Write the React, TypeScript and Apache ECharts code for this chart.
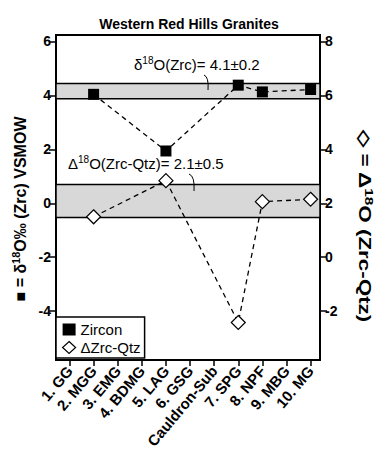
import React, { useEffect, useRef } from "react";
import * as echarts from "echarts";

const categories = ["1. GG", "2. MGG", "3. EMG", "4. BDMG", "5. LAG", "6. GSG", "Cauldron-Sub", "7. SPG", "8. NPF", "9. MBG", "10. MG"];
const zirconIdx = [1, 4, 7, 8, 10];
const zirconValues = [4.04, 1.94, 4.38, 4.13, 4.22];
const deltaIdx = [1, 4, 7, 8, 10];
const deltaValues = [1.5, 2.84, -2.42, 2.06, 2.15];
const leftTicks = [-4, -2, 0, 2, 4, 6];
const rightTicks = [-2, 0, 2, 4, 6, 8];
const xTicks = [0, 1, 2, 3, 4, 5, 6, 7, 8, 9, 10];
const xRange = [-0.56, 10.39];
const zirconBand = [3.88, 4.44];
const deltaBand = [1.47, 2.7];

const FONT = "'Liberation Sans', Arial, Helvetica, sans-serif";

export default function App() {
  const ref = useRef<HTMLDivElement>(null);
  useEffect(() => {
    if (!ref.current) return;
    const chart = echarts.init(ref.current, undefined, { renderer: "svg" });
    const sup = { fontSize: 10, lineHeight: 10, verticalAlign: "top" as const, fontFamily: FONT };
    const supB = { ...sup, fontSize: 11, fontWeight: "bold" as const };
    const option = {
      animation: false,
      backgroundColor: "#fff",
      textStyle: { fontFamily: FONT },
      grid: { left: 56, right: 61, top: 35, bottom: 101, show: true, borderColor: "#000", borderWidth: 2, backgroundColor: "transparent", containLabel: false },
      xAxis: {
        type: "value",
        min: xRange[0],
        max: xRange[1],
        position: "bottom",
        splitLine: { show: false },
        axisLine: { show: true, onZero: false, lineStyle: { color: "#000", width: 2 } },
        axisTick: { show: true, customValues: xTicks, length: 6, lineStyle: { color: "#000", width: 1.5 } },
        axisLabel: {
          customValues: xTicks,
          formatter: (v: number) => categories[Math.round(v)] ?? "",
          rotate: 50,
          fontSize: 15,
          fontWeight: "bold",
          color: "#000",
          margin: 8,
          fontFamily: FONT,
        },
      },
      yAxis: [
        {
          type: "value",
          min: -5.81,
          max: 6.24,
          position: "left",
          splitLine: { show: false },
          axisLine: { show: true, onZero: false, lineStyle: { color: "#000", width: 2 } },
          axisTick: { show: true, customValues: leftTicks, length: 7, lineStyle: { color: "#000", width: 1.5 } },
          axisLabel: { customValues: leftTicks, fontSize: 14, fontWeight: "bold", color: "#000", margin: 5, fontFamily: FONT },
        },
        {
          type: "value",
          min: -3.81,
          max: 8.24,
          position: "right",
          splitLine: { show: false },
          axisLine: { show: true, onZero: false, lineStyle: { color: "#000", width: 2 } },
          axisTick: { show: true, customValues: rightTicks, length: 7, lineStyle: { color: "#000", width: 1.5 } },
          axisLabel: { customValues: rightTicks, fontSize: 14, fontWeight: "bold", color: "#000", margin: 5, fontFamily: FONT },
        },
      ],
      legend: {
        orient: "vertical",
        left: 56,
        top: 317,
        itemWidth: 13,
        itemHeight: 12,
        itemGap: 3,
        padding: [5, 4, 3, 6],
        backgroundColor: "#fff",
        borderColor: "#000",
        borderWidth: 1.5,
        textStyle: { fontSize: 15, color: "#000", fontFamily: FONT },
        data: [
          { name: "Zircon", icon: "rect", itemStyle: { color: "#000", borderWidth: 0 } },
          { name: "ΔZrc-Qtz", icon: "diamond", itemStyle: { color: "#fff", borderColor: "#000", borderWidth: 1.2 } },
        ],
      },
      series: [
        {
          name: "ΔZrc-Qtz",
          type: "line",
          yAxisIndex: 1,
          z: 3,
          data: deltaIdx.map((x, i) => [x, deltaValues[i]]),
          symbol: "diamond",
          symbolSize: 14,
          itemStyle: { color: "#fff", borderColor: "#000", borderWidth: 1.2 },
          lineStyle: { color: "#000", width: 1.3, type: [5, 4] },
          markArea: {
            silent: true,
            itemStyle: { color: "#d8d8d8", borderColor: "#000", borderWidth: 1.5 },
            data: [[{ xAxis: xRange[0], yAxis: deltaBand[0] }, { xAxis: xRange[1], yAxis: deltaBand[1] }]],
          },
        },
        {
          name: "Zircon",
          type: "line",
          yAxisIndex: 0,
          z: 4,
          data: zirconIdx.map((x, i) => [x, zirconValues[i]]),
          symbol: "rect",
          symbolSize: 11,
          itemStyle: { color: "#000" },
          lineStyle: { color: "#000", width: 1.3, type: [5, 4] },
          markArea: {
            silent: true,
            itemStyle: { color: "#d8d8d8", borderColor: "#000", borderWidth: 1.5 },
            data: [[{ xAxis: xRange[0], yAxis: zirconBand[0] }, { xAxis: xRange[1], yAxis: zirconBand[1] }]],
          },
        },
      ],
      graphic: [
        {
          type: "text",
          x: 189,
          y: 24,
          style: { text: "Western Red Hills Granites", font: `bold 14px ${FONT}`, fill: "#000", align: "center", verticalAlign: "middle" },
        },
        {
          type: "text",
          x: 134,
          y: 64,
          style: {
            text: "δ{s|18}O(Zrc)= 4.1±0.2",
            fontSize: 15,
            fontFamily: FONT,
            lineHeight: 18,
            fill: "#000",
            align: "left",
            verticalAlign: "middle",
            rich: { s: sup },
          },
        },
        {
          type: "bezierCurve",
          shape: { x1: 204, y1: 75, cpx1: 209, cpy1: 77, x2: 208, y2: 90 },
          style: { stroke: "#000", lineWidth: 1, fill: "none" },
          z: 10,
        },
        {
          type: "text",
          x: 68,
          y: 163,
          style: {
            text: "Δ{s|18}O(Zrc-Qtz)= 2.1±0.5",
            fontSize: 15,
            fontFamily: FONT,
            lineHeight: 18,
            fill: "#000",
            align: "left",
            verticalAlign: "middle",
            rich: { s: sup },
          },
        },
        {
          type: "bezierCurve",
          shape: { x1: 189, y1: 174, cpx1: 195, cpy1: 176, x2: 194, y2: 191 },
          style: { stroke: "#000", lineWidth: 1, fill: "none" },
          z: 10,
        },
        {
          type: "text",
          x: 20,
          y: 209,
          rotation: Math.PI / 2,
          style: {
            text: "■ = δ{s|18}O‰ (Zrc) VSMOW",
            fontSize: 16,
            fontWeight: "bold",
            fontFamily: FONT,
            lineHeight: 19,
            fill: "#000",
            align: "center",
            verticalAlign: "middle",
            rich: { s: supB },
          },
        },
        {
          type: "text",
          x: 365,
          y: 226,
          rotation: -Math.PI / 2,
          scaleX: 1.4,
          style: {
            text: "◇ = Δ{s|18}O (Zrc-Qtz)",
            fontSize: 16,
            fontWeight: "bold",
            fontFamily: FONT,
            lineHeight: 19,
            fill: "#000",
            align: "center",
            verticalAlign: "middle",
            rich: { s: supB },
          },
        },
      ],
    };
    chart.setOption(option as any);
    return () => chart.dispose();
  }, []);
  return <div ref={ref} style={{ position: "absolute", left: 0, top: 0, width: 381, height: 461 }} />;
}
